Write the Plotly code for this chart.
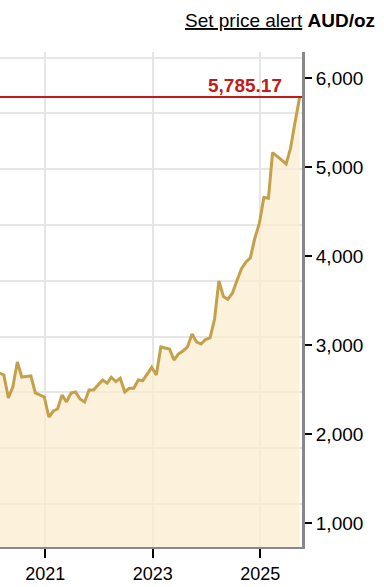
import pandas as pd
import plotly.graph_objects as go

# ---- data (AUD per ounce, monthly) ----
start_date = "2020-02-25"
prices = [
    2685, 2663, 2404, 2528, 2809, 2640, 2646, 2652, 2461, 2438,
    2416, 2191, 2258, 2281, 2438, 2360, 2461, 2472, 2393, 2360,
    2494, 2494, 2551, 2607, 2570, 2637, 2588, 2626, 2472, 2513,
    2513, 2607, 2599, 2674, 2749, 2663, 2978, 2966, 2955, 2831,
    2899, 2933, 2978, 3124, 3034, 3011, 3062, 3079, 3292, 3719,
    3545, 3514, 3581, 3719, 3854, 3933, 3978, 4202, 4365, 4657,
    4648, 5161, 5124, 5079, 5034, 5210, 5506, 5785.17,
]
dates = pd.date_range(start_date, periods=len(prices), freq=pd.DateOffset(months=1))
x_ticks = ["2021-01-01", "2023-01-01", "2025-01-01"]
x_tick_labels = ["2021", "2023", "2025"]
y_ticks = [1000, 2000, 3000, 4000, 5000, 6000]
y_tick_labels = ["1,000", "2,000", "3,000", "4,000", "5,000", "6,000"]
last_label = "5,785.17"
header_link = "Set price alert"
header_unit = "AUD/oz"

FONT = "Helvetica, Arial, 'Liberation Sans', sans-serif"
GOLD = "#c5a04a"
RED = "#c41a1a"

fig = go.Figure()
fig.add_trace(go.Scatter(
    x=dates, y=prices, mode="lines",
    line=dict(color=GOLD, width=3),
    fill="tozeroy", fillcolor="rgba(251,235,204,0.7)",
    hoverinfo="skip", showlegend=False,
))
# helper trace for the independent horizontal grid
fig.add_trace(go.Scatter(x=[dates[0]], y=[0], yaxis="y2", mode="markers",
                         marker=dict(opacity=0), hoverinfo="skip", showlegend=False))

last_val = prices[-1]
fig.add_shape(type="line", xref="paper", x0=0, x1=1, yref="y", y0=last_val, y1=last_val,
              line=dict(color=RED, width=2))
fig.add_annotation(x=dates[-1], y=last_val, xref="x", yref="y", text=f"<b>{last_label}</b>",
                   showarrow=False, xanchor="right", yanchor="middle", xshift=-16, yshift=12,
                   font=dict(family=FONT, size=19, color=RED))
fig.add_annotation(x=1.248, y=1.064, xref="paper", yref="paper",
                   text=f"<u>{header_link}</u> <b>{header_unit}</b>",
                   showarrow=False, xanchor="right", yanchor="middle",
                   font=dict(family=FONT, size=19, color="#000"))

fig.update_layout(
    width=384, height=587,
    margin=dict(l=0, r=82, t=52, b=40),
    paper_bgcolor="white", plot_bgcolor="white",
    font=dict(family=FONT, size=19, color="#000"),
    xaxis=dict(
        range=["2020-02-28", "2025-10-11"],
        tickvals=x_ticks, ticktext=x_tick_labels,
        showgrid=True, gridcolor="#e6e6e6", gridwidth=2,
        showline=True, linecolor="#888", linewidth=2,
        ticks="outside", ticklen=9, tickwidth=2, tickcolor="#000",
        tickfont=dict(size=18), zeroline=False,
    ),
    yaxis=dict(
        side="right", range=[730, 6292],
        tickvals=y_ticks, ticktext=y_tick_labels,
        showgrid=False, showline=True, linecolor="#888", linewidth=3,
        ticks="outside", ticklen=7, tickwidth=2, tickcolor="#000",
        tickfont=dict(size=19), zeroline=False,
    ),
    yaxis2=dict(
        overlaying="y", side="left", range=[-0.771, 8.1], dtick=1, tick0=0,
        showgrid=True, gridcolor="#e6e6e6", gridwidth=2,
        showticklabels=False, ticks="", zeroline=False, showline=False,
    ),
)
fig.write_html("out.html", config={"displayModeBar": False})
